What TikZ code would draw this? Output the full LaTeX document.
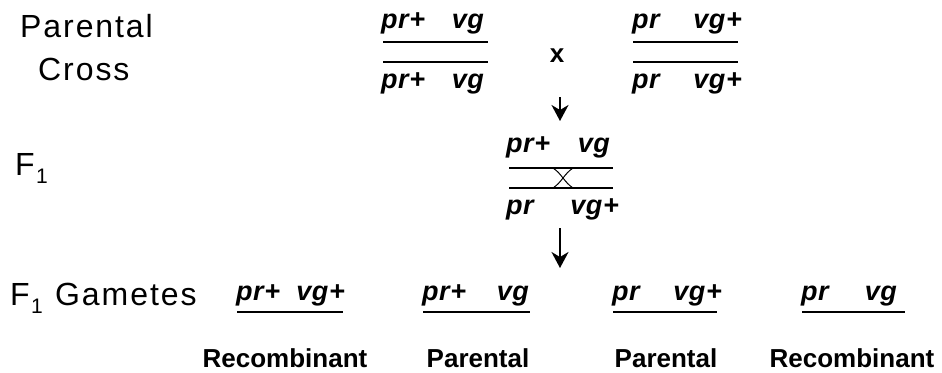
\documentclass[tikz,border=0pt]{standalone}
\usepackage{fontspec}
\setmainfont{Liberation Sans}
\newfontfamily\widefont[LetterSpace=6]{Liberation Sans}
\newfontfamily\genofont[LetterSpace=2]{Liberation Sans}
\usetikzlibrary{arrows.meta}
\begin{document}
\begin{tikzpicture}[x=1pt,y=-1pt,
  title/.style={anchor=base west,inner sep=0pt,font=\widefont\fontsize{32}{32}\selectfont},
  genol/.style={anchor=base west,inner sep=0pt,font=\genofont\bfseries\itshape\fontsize{27}{27}\selectfont},
  genor/.style={anchor=base east,inner sep=0pt,font=\genofont\bfseries\itshape\fontsize{27}{27}\selectfont},
  lab/.style={anchor=base,inner sep=0pt,font=\bfseries\fontsize{26}{26}\selectfont},
  chrom/.style={line width=2pt},
  arr/.style={line width=2pt,-{Stealth[length=16pt,width=17pt,inset=5pt]}},
  sub/.style={anchor=base west,inner sep=0pt,font=\fontsize{21}{21}\selectfont}]
\path[use as bounding box] (0,0) rectangle (942,372);
% titles
\node[title] (tpar) at (20,37) {Parental};
\node[title] (tcross) at (38,80) {Cross};
\node[title] (tf1) at (15,175) {F};
\node[sub] (tf1s) at (36,183) {1};
\node[title] (tg) at (10,305) {F};
\node[sub] (tgs) at (31,313) {1};
\node[title] (tgam) at (55,305) {Gametes};
% parental left
\node[genol] (pl1) at (381,28) {pr+};
\node[genor] (pl2) at (484,28) {vg};
\node[genol] (pl3) at (381,88) {pr+};
\node[genor] (pl4) at (484,88) {vg};
\coordinate (la1) at (383,42); \coordinate (lb1) at (488,42);
\coordinate (la2) at (383,62); \coordinate (lb2) at (488,62);
\draw[chrom] (la1) -- (lb1);
\draw[chrom] (la2) -- (lb2);
% x
\node[anchor=base,inner sep=0pt,font=\bfseries\fontsize{26}{26}\selectfont] (cx) at (557,62) {x};
% parental right
\node[genol] (pr1) at (632,28) {pr};
\node[genor] (pr2) at (742,28) {vg+};
\node[genol] (pr3) at (632,88) {pr};
\node[genor] (pr4) at (742,88) {vg+};
\coordinate (ra1) at (633,42); \coordinate (rb1) at (738,42);
\coordinate (ra2) at (633,62); \coordinate (rb2) at (738,62);
\draw[chrom] (ra1) -- (rb1);
\draw[chrom] (ra2) -- (rb2);
% arrow 1
\coordinate (a1s) at (560,97); \coordinate (a1e) at (560,121);
\draw[arr] (a1s) -- (a1e);
% F1
\node[genol] (f1) at (506,152) {pr+};
\node[genor] (f2) at (610,152) {vg};
\node[genol] (f3) at (506,214) {pr};
\node[genor] (f4) at (619,214) {vg+};
\coordinate (fa1) at (509,168); \coordinate (fb1) at (613,168);
\coordinate (fa2) at (509,188); \coordinate (fb2) at (613,188);
\draw[chrom] (fa1) -- (fb1);
\draw[chrom] (fa2) -- (fb2);
\coordinate (x1) at (553,168); \coordinate (x2) at (573,168);
\coordinate (x3) at (553,188); \coordinate (x4) at (573,188);
\draw[line width=1pt] (x1) .. controls (562,174) and (564,182) .. (x4);
\draw[line width=1pt] (x2) .. controls (564,174) and (562,182) .. (x3);
% arrow 2
\coordinate (a2s) at (560,228); \coordinate (a2e) at (560,268);
\draw[arr] (a2s) -- (a2e);
% gametes
\node[genol] (g1a) at (236,300) {pr+};
\node[genor] (g1b) at (345,300) {vg+};
\coordinate (g1l) at (237,312); \coordinate (g1r) at (343,312);
\draw[chrom] (g1l) -- (g1r);
\node[genol] (g2a) at (422,300) {pr+};
\node[genor] (g2b) at (529,300) {vg};
\coordinate (g2l) at (423,312); \coordinate (g2r) at (530,312);
\draw[chrom] (g2l) -- (g2r);
\node[genol] (g3a) at (612,300) {pr};
\node[genor] (g3b) at (722,300) {vg+};
\coordinate (g3l) at (613,312); \coordinate (g3r) at (717,312);
\draw[chrom] (g3l) -- (g3r);
\node[genol] (g4a) at (801,300) {pr};
\node[genor] (g4b) at (897,300) {vg};
\coordinate (g4l) at (802,312); \coordinate (g4r) at (905,312);
\draw[chrom] (g4l) -- (g4r);
% labels
\node[lab] (l1) at (285,367) {Recombinant};
\node[lab] (l2) at (478,367) {Parental};
\node[lab] (l3) at (666,367) {Parental};
\node[lab] (l4) at (852,367) {Recombinant};
\end{tikzpicture}
\end{document}
